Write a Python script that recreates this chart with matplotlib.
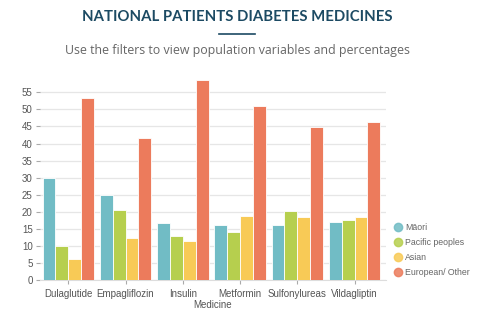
import numpy as np
import matplotlib
matplotlib.use("Agg")
from matplotlib import pyplot as plt
from matplotlib.lines import Line2D

medicines = ["Dulaglutide", "Empagliflozin", "Insulin", "Metformin", "Sulfonylureas", "Vildagliptin"]
groups = ["Māori", "Pacific peoples", "Asian", "European/ Other"]
maori = [30.0, 25.0, 16.7, 16.1, 16.3, 17.1]
pacific = [10.1, 20.7, 12.9, 14.1, 20.2, 17.7]
asian = [6.2, 12.4, 11.4, 18.7, 18.5, 18.5]
european = [53.2, 41.7, 58.7, 51.1, 44.8, 46.2]
yticks = list(range(0, 56, 5))

colors = ["#71bcc5", "#b6cf4e", "#f8ca56", "#ec7b5c"]
series = [maori, pacific, asian, european]

plt.rcParams["font.family"] = ["Liberation Sans", "DejaVu Sans"]
fig = plt.figure(figsize=(4.8, 3.22), dpi=100)
ax = fig.add_axes([0.0827, 0.1295, 0.7215, 0.637])

x = np.arange(len(medicines))
w = 0.225
for i, (vals, c) in enumerate(zip(series, colors)):
    ax.bar(x + (i - 1.5) * w, vals, width=w, color=c, edgecolor="white",
           linewidth=0.6, zorder=3)

ax.set_xlim(-0.5, 5.55)
ax.set_ylim(0, 60)
ax.set_yticks(yticks)
ax.set_xticks(x)
ax.set_xticklabels(medicines)
ax.tick_params(axis="both", labelsize=7, colors="#aaaaaa", labelcolor="#555555",
               length=3, width=0.8)
ax.tick_params(axis="y", pad=2)
ax.tick_params(axis="x", pad=3)
ax.grid(axis="y", color="#e6e6e6", linewidth=0.9, zorder=0)
for s in ["top", "right", "left"]:
    ax.spines[s].set_visible(False)
ax.spines["bottom"].set_color("#dddddd")
ax.set_xlabel("Medicine", fontsize=7, color="#555555", labelpad=1)

handles = [Line2D([], [], marker="o", linestyle="", markersize=6,
                  markerfacecolor=c, markeredgecolor=c, alpha=0.85) for c in colors]
fig.legend(handles, groups, loc="upper left", bbox_to_anchor=(0.81, 0.318),
           frameon=False, fontsize=6.3, labelcolor="#666666", handletextpad=0.3,
           labelspacing=0.68, borderaxespad=0, handlelength=1.2)

fig.text(0.494, 0.947, "NATIONAL PATIENTS DIABETES MEDICINES", ha="center", va="center",
         fontsize=10.7, fontweight="bold", color="#1c4a63", family=["Lato", "DejaVu Sans"])
fig.add_artist(Line2D([219 / 480, 255 / 480], [1 - 34 / 322, 1 - 34 / 322],
                      color="#1c4a63", linewidth=1.2))
fig.text(0.494, 0.842, "Use the filters to view population variables and percentages",
         ha="center", va="center", fontsize=8.9, color="#666666",
         family=["Open Sans", "DejaVu Sans"])

fig.savefig("out.png", dpi=100)
